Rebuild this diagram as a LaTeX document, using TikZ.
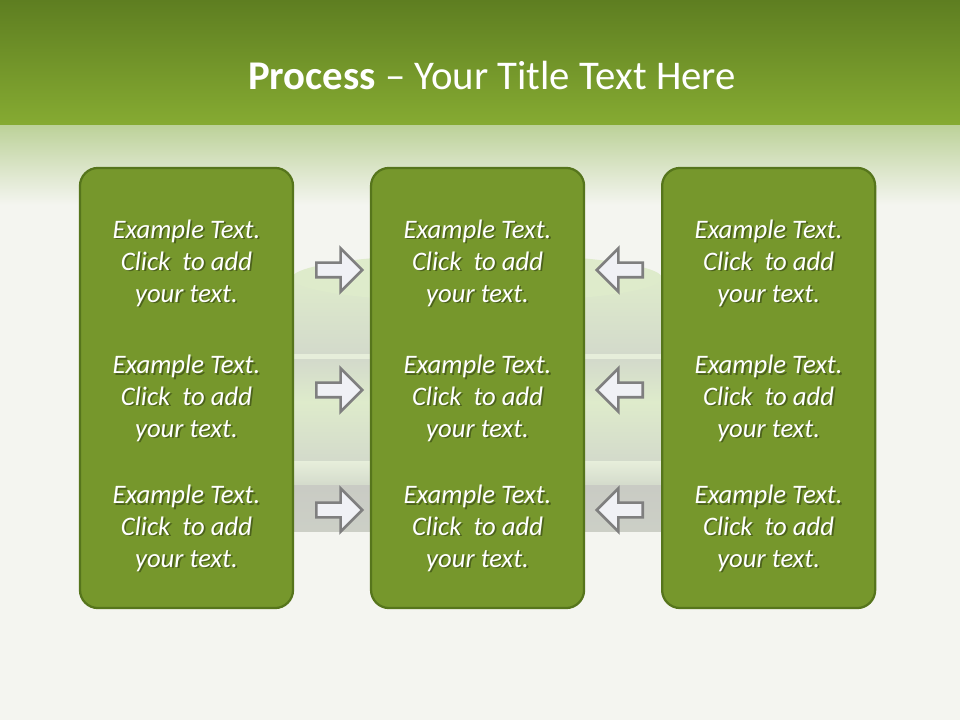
\documentclass[tikz,border=0pt]{standalone}
\usepackage{fontspec}
\setmainfont{Carlito}
\usetikzlibrary{shapes.arrows, positioning, calc}

\definecolor{bandtop}{HTML}{5E7E21}
\definecolor{bandbot}{HTML}{86AB32}
\definecolor{fadetop}{HTML}{BDD29A}
\definecolor{pagebg}{HTML}{F4F5F0}
\definecolor{platebase}{HTML}{D3DACB}
\definecolor{platetop}{HTML}{DEEBCB}
\definecolor{platelite}{HTML}{E6EEDA}
\definecolor{plategray}{HTML}{C9CBC4}
\definecolor{panelfill}{HTML}{76972C}
\definecolor{paneledge}{HTML}{56751C}
\definecolor{arrowfill}{HTML}{F0F1F5}
\definecolor{arrowedge}{HTML}{7F7F7F}

\begin{document}
\begin{tikzpicture}[
        x=0.025cm, y=-0.025cm,
        panel/.style={rectangle, draw=paneledge, line width=1.6pt, fill=panelfill, rounded corners=0.45cm, minimum width=5.325cm, minimum height=11cm, outer sep=0pt},
        txt/.style={text=white, align=center, font=\fontsize{19}{22.7}\selectfont\itshape},
        txtshadow/.style={txt, text=black, text opacity=0.35},
        fwd/.style={single arrow, draw=arrowedge, line width=1.9pt, fill=arrowfill, minimum height=1.15cm, inner xsep=0pt, inner ysep=0.15cm, single arrow head extend=0.36cm},
        bwd/.style={fwd, shape border rotate=180},
        title/.style={text=white, font=\fontsize{29}{34}\selectfont}
    ]
    % background
    \fill[pagebg] (0,0) rectangle (960,720);
    \shade[top color=bandtop, bottom color=bandbot] (0,0) rectangle (960,126);
    \shade[top color=fadetop, bottom color=pagebg] (0,126) rectangle (960,205);
    \begin{scope}
        \clip (293,230) rectangle (663,560);
        \shade[top color=platetop, bottom color=platebase] (292,278) rectangle (662,354);
        \fill[platetop] (477,278) ellipse (185 and 24);
        \fill[platelite] (292,354) rectangle (662,360);
        \shade[top color=platebase, bottom color=platetop] (292,360) rectangle (662,402);
        \shade[top color=platetop, bottom color=platebase] (292,402) rectangle (662,462);
        \shade[top color=platelite, bottom color=platebase] (292,462) rectangle (662,486);
        \shade[top color=plategray, bottom color=plategray!70!platebase] (292,486) rectangle (662,532);
    \end{scope}

    \node[title] (head) at (492,75) {\textbf{Process} – Your Title Text Here};

    \node[panel] (left) at (186.5,388) {};
    \node[panel, right=1.95cm of left] (mid) {};
    \node[panel, right=1.95cm of mid] (right) {};

    % texts with a soft shadow
    \foreach \p in {left, mid, right}
      \foreach \dy [count=\r] in {-125, 10, 140} {
        \node[txtshadow] at ($(\p)+(1.8,\dy+1.8)$) {Example Text.\\Click~ to add\\your text.};
        \node[txt] (\p-t\r) at ($(\p)+(0,\dy)$) {Example Text.\\Click~ to add\\your text.};
      }

    \foreach \y [count=\r] in {270, 390, 510} {
        \node[fwd, anchor=tail] (toMid\r) at (315,\y) {};
        \node[bwd, anchor=tail] (fromRight\r) at (644,\y) {};
    }
\end{tikzpicture}
\end{document}
